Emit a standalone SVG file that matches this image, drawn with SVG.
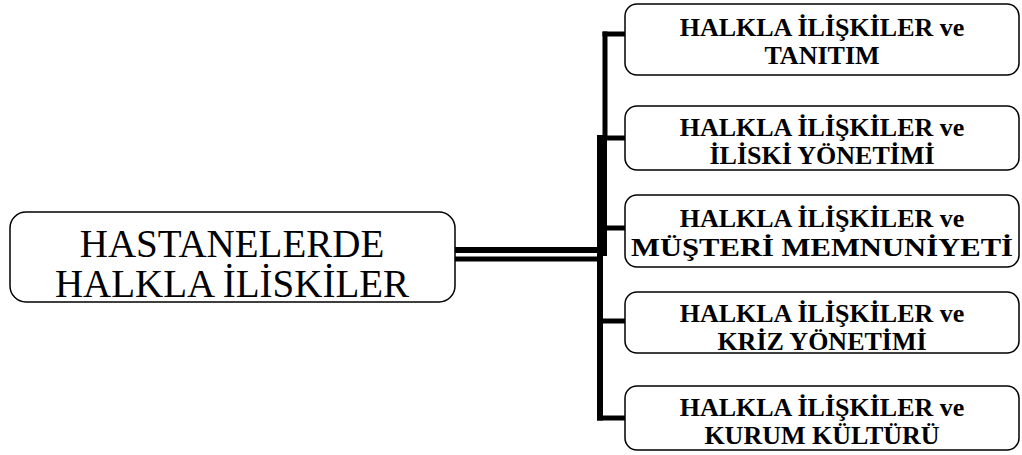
<svg xmlns="http://www.w3.org/2000/svg" width="1022" height="455" viewBox="0 0 1022 455">
  <style>
    .box { fill: #ffffff; stroke: #000000; stroke-width: 1.5; }
    .main-text { font-family: "Liberation Serif", "Times New Roman", serif; font-size: 39px; fill: #000; text-anchor: middle; }
    .sub-text { font-family: "Liberation Serif", "Times New Roman", serif; font-size: 26px; font-weight: bold; fill: #000; text-anchor: middle; }
    .wire { stroke: #000000; fill: none; stroke-linecap: butt; }
  </style>
  <rect width="1022" height="455" fill="#ffffff"/>

  <!-- elbow connectors from the root to each topic -->
  <g id="connectors">
    <line class="wire" x1="455" y1="250" x2="603" y2="250" stroke-width="6"/>
    <line class="wire" x1="455" y1="259" x2="603" y2="259" stroke-width="5"/>
    <line class="wire" x1="605" y1="31.5" x2="605" y2="138" stroke-width="5"/>
    <line class="wire" x1="602" y1="135" x2="602" y2="256" stroke-width="10"/>
    <line class="wire" x1="600" y1="255" x2="600" y2="420.5" stroke-width="6"/>
    <line class="wire" x1="602.5" y1="34" x2="625" y2="34" stroke-width="5"/>
    <line class="wire" x1="605" y1="138" x2="625" y2="138" stroke-width="5"/>
    <line class="wire" x1="605" y1="228" x2="625" y2="228" stroke-width="5"/>
    <line class="wire" x1="601" y1="321" x2="625" y2="321" stroke-width="5"/>
    <line class="wire" x1="597" y1="418" x2="625" y2="418" stroke-width="5"/>
  </g>

  <g id="root">
    <rect class="box" x="10" y="212" width="445" height="90" rx="16"/>
    <text class="main-text" x="232" y="257">HASTANELERDE</text>
    <text class="main-text" x="232" y="297">HALKLA İLİSKİLER</text>
  </g>

  <g id="topic-tanitim">
    <rect class="box" x="625" y="4" width="394" height="71" rx="12"/>
    <text class="sub-text" x="822" y="36">HALKLA İLİŞKİLER ve</text>
    <text class="sub-text" x="822" y="64">TANITIM</text>
  </g>

  <g id="topic-iliski">
    <rect class="box" x="625" y="106" width="394" height="64" rx="12"/>
    <text class="sub-text" x="822" y="136">HALKLA İLİŞKİLER ve</text>
    <text class="sub-text" x="822" y="164">İLİSKİ YÖNETİMİ</text>
  </g>

  <g id="topic-musteri">
    <rect class="box" x="625" y="195" width="394" height="72" rx="12"/>
    <text class="sub-text" x="822" y="227">HALKLA İLİŞKİLER ve</text>
    <text class="sub-text" x="822" y="256" textLength="382" lengthAdjust="spacingAndGlyphs">MÜŞTERİ MEMNUNİYETİ</text>
  </g>

  <g id="topic-kriz">
    <rect class="box" x="625" y="292" width="394" height="61" rx="12"/>
    <text class="sub-text" x="822" y="322">HALKLA İLİŞKİLER ve</text>
    <text class="sub-text" x="822" y="350">KRİZ YÖNETİMİ</text>
  </g>

  <g id="topic-kurum">
    <rect class="box" x="625" y="386" width="394" height="64" rx="12"/>
    <text class="sub-text" x="822" y="416">HALKLA İLİŞKİLER ve</text>
    <text class="sub-text" x="822" y="444">KURUM KÜLTÜRÜ</text>
  </g>
</svg>
